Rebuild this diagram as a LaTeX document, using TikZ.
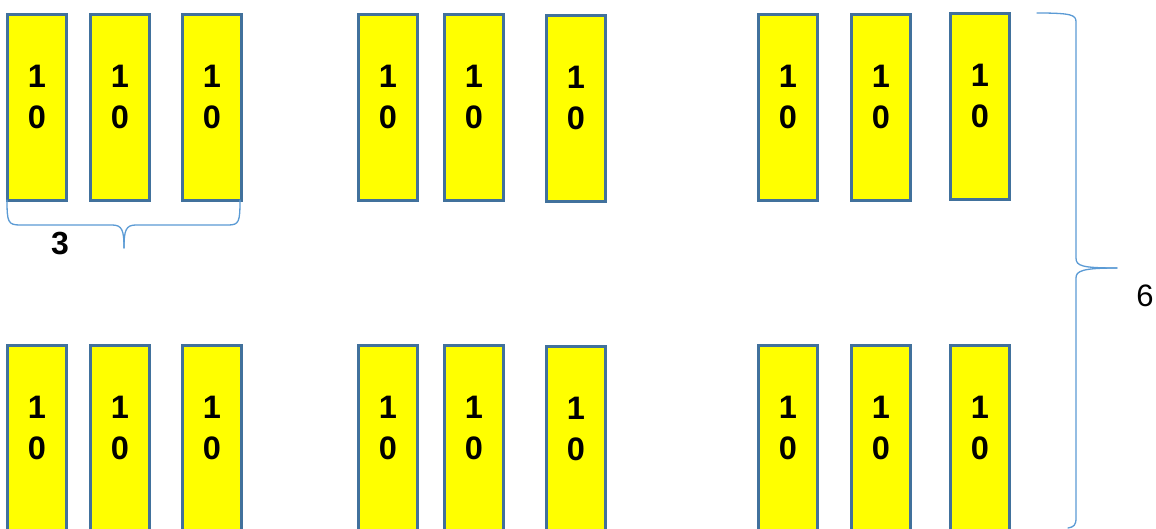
\documentclass[tikz,border=0pt]{standalone}
\usepackage{fontspec}
\setmainfont{Liberation Sans}
\definecolor{boxline}{HTML}{41719C}
\definecolor{braceline}{HTML}{5B9BD5}
\definecolor{cellfill}{RGB}{255,255,0}
\tikzset{
  cell/.style={draw=boxline, line width=2.6pt, fill=cellfill, minimum width=59pt, minimum height=186pt, inner sep=0pt, anchor=north west},
  digits/.style={font=\bfseries\fontsize{32.5}{41}\selectfont, align=center, inner sep=0pt},
  bracepath/.style={draw=braceline, line width=1.3pt, line cap=round, line join=round},
  lbl/.style={inner sep=0pt, font=\fontsize{31}{37}\selectfont}
}
\newcommand{\cellat}[3]{%
  \node[cell] (#1) at (#2,#3) {};
  \node[digits] (#1t) at ([yshift=10pt]#1.center) {1\\0};
}
\begin{document}
\begin{tikzpicture}[x=1pt,y=-1pt]
\clip (0,0) rectangle (1156,529);
\fill[white] (0,0) rectangle (1156,529);
% top row
\cellat{a1}{6}{13}
\cellat{a2}{89}{13}
\cellat{a3}{181}{13}
\cellat{a4}{357}{13}
\cellat{a5}{443}{13}
\cellat{a6}{545}{14}
\cellat{a7}{757}{13}
\cellat{a8}{850}{13}
\cellat{a9}{949}{12}
% bottom row
\cellat{b1}{6}{344}
\cellat{b2}{89}{344}
\cellat{b3}{181}{344}
\cellat{b4}{357}{344}
\cellat{b5}{443}{344}
\cellat{b6}{545}{345}
\cellat{b7}{757}{344}
\cellat{b8}{850}{344}
\cellat{b9}{949}{344}
% brace under first group
\draw[bracepath] (7,200) .. controls (7,222) and (8,225) .. (20,225)
  -- (112,225) .. controls (122,225) and (124,230) .. (124,248);
\draw[bracepath] (124,248) .. controls (124,230) and (126,225) .. (136,225)
  -- (228,225) .. controls (239,225) and (240,222) .. (240,200);
\node[lbl, font=\bfseries\fontsize{32}{37}\selectfont] (three) at (60,244) {3};
% right brace
\draw[bracepath] (1037,13) .. controls (1072,13) and (1076,15) .. (1076,22)
  -- (1076,258) .. controls (1076,266) and (1082,268) .. (1117,268);
\draw[bracepath] (1117,268) .. controls (1082,268) and (1076,271) .. (1076,278)
  -- (1076,518) .. controls (1076,525) and (1074,527) .. (1068,528);
\node[lbl] (six) at (1145,296) {6};
\end{tikzpicture}
\end{document}
